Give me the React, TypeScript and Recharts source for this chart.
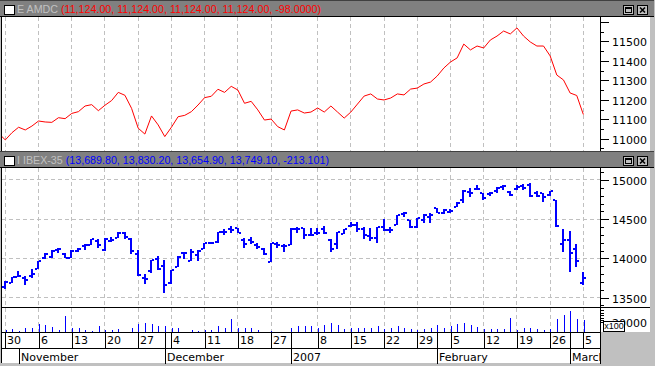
import React from "react";
import { ComposedChart, Line, Bar, XAxis, YAxis, CartesianGrid } from "recharts";

// E AMDC close, starting one session before 30 Oct (index -1)
const AMDC = [
  11027, 10994, 11031, 11059, 11045, 11065, 11091, 11086, 11084, 11108,
  11103, 11130, 11139, 11168, 11175, 11144, 11172, 11196, 11238, 11223,
  11156, 11054, 11024, 11117, 11071, 11011, 11059, 11113, 11120, 11139,
  11173, 11211, 11218, 11254, 11238, 11269, 11250, 11182, 11192, 11148,
  11096, 11101, 11062, 11045, 11142, 11148, 11132, 11137, 11158, 11137,
  11168, 11137, 11106, 11137, 11178, 11219, 11230, 11204, 11199, 11209,
  11230, 11225, 11255, 11260, 11281, 11291, 11322, 11363, 11394, 11415,
  11486, 11456, 11476, 11466, 11507, 11527, 11553, 11538, 11569, 11527,
  11497, 11476, 11476, 11425, 11327, 11302, 11235, 11222, 11124,
];

// IBEX-35 daily bars, 30 Oct 2006 .. 5 Mar 2007
const OPEN = [
  13631, 13690, 13765, 13746, 13776, 13865, 14001, 14014, 14107, 14056,
  14009, 14094, 14158, 14171, 14226, 14107, 14226, 14265, 14328, 14248,
  14052, 13746, 13839, 13992, 13907, 13690, 13895, 14065, 13967, 14043,
  14116, 14192, 14214, 14341, 14375, 14384, 14235, 14235, 14171, 14116,
  13958, 14184, 14158, 14171, 14375, 14384, 14299, 14320, 14371, 14235,
  14180, 14307, 14413, 14426, 14371, 14286, 14256, 14405, 14362, 14426,
  14562, 14490, 14405, 14490, 14532, 14639, 14575, 14596, 14660, 14745,
  14851, 14881, 14830, 14822, 14864, 14915, 14851, 14885, 14928, 14936,
  14830, 14830, 14809, 14745, 14180, 14231, 14116, 13690,
];
const HIGH = [
  13712, 13767, 13839, 13776, 13869, 13971, 14065, 14107, 14129, 14065,
  14107, 14129, 14184, 14248, 14243, 14256, 14277, 14333, 14337, 14256,
  14107, 13801, 13980, 14031, 13980, 13852, 14031, 14086, 14116, 14107,
  14201, 14214, 14341, 14375, 14418, 14384, 14256, 14269, 14201, 14129,
  14192, 14214, 14184, 14384, 14396, 14384, 14384, 14384, 14413, 14243,
  14337, 14371, 14460, 14469, 14405, 14384, 14405, 14498, 14396, 14554,
  14596, 14490, 14511, 14562, 14575, 14639, 14630, 14626, 14724, 14873,
  14894, 14936, 14830, 14851, 14915, 14936, 14864, 14936, 14945, 14966,
  14864, 14839, 14864, 14745, 14375, 14345, 14184, 13830,
];
const LOW = [
  13610, 13682, 13759, 13661, 13746, 13861, 13988, 14001, 14065, 14001,
  14001, 14077, 14107, 14171, 14129, 14099, 14214, 14265, 14243, 14052,
  13776, 13669, 13810, 13852, 13555, 13674, 13895, 13988, 13967, 13967,
  14116, 14184, 14201, 14299, 14328, 14320, 14129, 14184, 14120, 14043,
  13958, 14129, 14086, 14171, 14320, 14243, 14290, 14299, 14307, 14077,
  14116, 14307, 14405, 14333, 14243, 14226, 14192, 14350, 14328, 14426,
  14524, 14384, 14384, 14456, 14456, 14575, 14562, 14583, 14660, 14702,
  14788, 14873, 14745, 14796, 14830, 14873, 14796, 14873, 14873, 14788,
  14788, 14715, 14796, 14405, 14077, 13831, 13890, 13655,
];
const CLOSE = [
  13703, 13759, 13770, 13725, 13797, 13967, 14056, 14090, 14116, 14001,
  14099, 14116, 14171, 14243, 14171, 14248, 14235, 14320, 14277, 14094,
  13784, 13737, 13980, 13861, 13661, 13852, 14022, 14073, 14086, 14099,
  14201, 14195, 14333, 14343, 14362, 14328, 14184, 14214, 14150, 14052,
  14192, 14171, 14160, 14375, 14371, 14299, 14300, 14322, 14320, 14116,
  14333, 14371, 14426, 14371, 14299, 14256, 14396, 14362, 14365, 14554,
  14575, 14405, 14511, 14554, 14554, 14575, 14617, 14609, 14711, 14860,
  14839, 14884, 14766, 14830, 14894, 14918, 14809, 14915, 14902, 14796,
  14796, 14779, 14864, 14413, 14239, 14073, 13962, 13749,
];
const VOLUME = [
  4900, 5600, 2000, 9000, 9000, 16000, 13900, 10400, 3500, 32600,
  9000, 9000, 4900, 1400, 11800, 4900, 3500, 5600, 1000, 7600,
  16000, 19400, 16000, 13200, 11800, 9000, 9000, 1000, 4900, 1400,
  4900, 3500, 11800, 9000, 26400, 9000, 7600, 9000, 3500, 1000,
  1400, 800, 800, 9000, 12500, 13200, 11800, 9000, 15300, 19400,
  13900, 6900, 9000, 9000, 9000, 9000, 11800, 6900, 9000, 11800,
  9000, 6900, 3500, 5600, 9000, 13900, 9000, 11800, 16000, 18800,
  13900, 10400, 6900, 5600, 6900, 5600, 29200, 3500, 9000, 9000,
  6900, 3500, 5600, 26400, 34700, 43100, 26400, 24300,
];

// date axis: week starts and month starts (session index)
const DAY_TICKS = [0, 5, 10, 15, 20, 25, 30, 35, 40, 47, 52, 57, 62, 67, 72, 77, 82, 87];
const DAY_LABELS = ["30", "6", "13", "20", "27", "4", "11", "18", "27", "8", "15", "22", "29", "5", "12", "19", "26", "5"];
const MONTH_TICKS = [2, 24, 43, 65, 85];
const MONTH_LABELS = ["November", "December", "2007", "February", "March"];

const AMDC_TICKS = [10950, 11000, 11050, 11100, 11150, 11200, 11250, 11300, 11350, 11400, 11450, 11500, 11550, 11600];
const AMDC_MAJOR = [11000, 11100, 11200, 11300, 11400, 11500, 11600];
const AMDC_LABELS = [11000, 11100, 11200, 11300, 11400, 11500];
const IBEX_TICKS = [13400, 13500, 13600, 13700, 13800, 13900, 14000, 14100, 14200, 14300, 14400, 14500, 14600, 14700, 14800, 14900, 15000, 15100];
const IBEX_LABELS = [13500, 14000, 14500, 15000];
const VOL_TICKS = [20000, 25000, 30000, 35000, 40000, 45000];
const VOL_LABELS = [20000];

const X_DOMAIN = [-0.5, 89.5];
const AXIS_X = 600;
const FONT = '"DejaVu Sans", sans-serif';
const GRID = "#c0c0c0";

const amdcData = AMDC.map((v, k) => ({ i: k - 1, amdc: v }));
const ibexData = OPEN.map((o, i) => ({ i, open: o, high: HIGH[i], low: LOW[i], close: CLOSE[i] }));
const volData = VOLUME.map((v, i) => ({ i, vol: v }));

const OhlcBar = (props: any) => {
  const { x, y, width, height, payload } = props;
  const cx = Math.round(x + width / 2);
  const span = payload.high - payload.low || 1;
  const at = (v: number) => Math.round(y + ((payload.high - v) / span) * height);
  const top = Math.round(y);
  const bottom = Math.round(y + height);
  return (
    <g fill="#0000ff">
      <rect x={cx - 1} y={top} width={2} height={Math.max(bottom - top, 1)} />
      <rect x={cx - 3} y={at(payload.open) - 1} width={2} height={2} />
      <rect x={cx + 1} y={at(payload.close) - 1} width={2} height={2} />
    </g>
  );
};

const VolBar = (props: any) => {
  const { x, y, width, height } = props;
  const top = Math.round(y);
  return <rect x={Math.round(x + width / 2)} y={top} width={1} height={Math.round(y + height) - top} fill="#0000ff" />;
};

const priceTick = (major: number[], labels: number[]) => (props: any) => {
  const v = props.payload.value;
  const py = Math.round(props.y) + 0.5;
  const long = major.includes(v);
  return (
    <g>
      <line x1={AXIS_X} x2={AXIS_X + (long ? 9 : 4)} y1={py} y2={py} stroke="#000" />
      {labels.includes(v) && (
        <text x={612} y={py + 4} fontFamily={FONT} fontSize={11} fill="#000">
          {v}
        </text>
      )}
    </g>
  );
};

const DateTick = (props: any) => {
  const v = props.payload.value;
  const px = Math.round(props.x) + 0.5;
  const d = DAY_TICKS.indexOf(v);
  const m = MONTH_TICKS.indexOf(v);
  return (
    <g>
      {d >= 0 && (
        <>
          <line x1={px} x2={px} y1={24} y2={40} stroke="#000" />
          <text x={px + 1.5} y={36.3} fontFamily={FONT} fontSize={11} fill="#000">
            {DAY_LABELS[d]}
          </text>
        </>
      )}
      {m >= 0 && (
        <>
          <line x1={px} x2={px} y1={m === 0 ? 40 : 24} y2={56} stroke="#000" />
          <svg x={0} y={0} width={AXIS_X} height={56}>
            <text x={px + 1.5} y={53} fontFamily={FONT} fontSize={11} fill="#000">
              {MONTH_LABELS[m]}
            </text>
          </svg>
        </>
      )}
    </g>
  );
};

const TitleBar = ({ top, name, values, color }: { top: number; name: string; values: string; color: string }) => (
  <div style={{ position: "absolute", left: 0, top, width: 654, height: 17, background: "#808080", borderTop: "1px solid #404040", borderBottom: "1px solid #000", boxSizing: "border-box" }}>
    <div style={{ position: "absolute", left: 4, top: 4, width: 11, height: 10, background: "#fff", border: "1px solid #000", boxSizing: "border-box" }} />
    <div style={{ position: "absolute", left: 17, top: 2, font: '10.7px "Liberation Sans", sans-serif', lineHeight: "13px", color: "#c0c0c0", whiteSpace: "nowrap" }}>
      {name} <span style={{ color }}>{values}</span>
    </div>
    <svg style={{ position: "absolute", left: 623, top: 4 }} width={25} height={11}>
      <rect x={0.5} y={0.5} width={10} height={9} fill="#c0c0c0" stroke="#000" />
      <rect x={2.5} y={2.5} width={6} height={5} fill="none" stroke="#000" />
      <line x1={2} x2={9} y1={3} y2={3} stroke="#000" strokeWidth={2} />
      <rect x={14.5} y={0.5} width={10} height={9} fill="#c0c0c0" stroke="#000" />
      <path d="M17 2.5 L22 7.5 M22 2.5 L17 7.5" stroke="#000" strokeWidth={1.6} />
    </svg>
  </div>
);

const box = (left: number, top: number, width: number, height: number, background: string) => (
  <div style={{ position: "absolute", left, top, width, height, background }} />
);

export default function App() {
  return (
    <div style={{ position: "absolute", left: 0, top: 0, width: 655, height: 366, background: "#c0c0c0", overflow: "hidden" }}>
      {box(1, 17, 649, 134, "#fff")}
      {box(1, 168, 649, 139, "#fff")}
      {box(1, 307, 649, 1, "#000")}
      {box(1, 308, 649, 24, "#fff")}
      {box(1, 332, 600, 31, "#fff")}
      {box(1, 17, 1, 346, "#000")}
      <TitleBar top={0} name="E AMDC" values="(11,124.00, 11,124.00, 11,124.00, 11,124.00, -98.0000)" color="#ff0000" />
      <TitleBar top={151} name="I IBEX-35" values="(13,689.80, 13,830.20, 13,654.90, 13,749.10, -213.101)" color="#0000ff" />

      <div style={{ position: "absolute", left: 0, top: 17 }}>
        <ComposedChart width={652} height={134} data={amdcData} margin={{ top: 0, right: 0, bottom: 0, left: 2 }}>
          <CartesianGrid horizontal={false} verticalValues={DAY_TICKS} stroke={GRID} strokeDasharray="4 3" shapeRendering="crispEdges" />
          <XAxis type="number" dataKey="i" domain={X_DOMAIN} allowDataOverflow hide />
          <YAxis orientation="right" width={52} domain={[10937, 11625]} allowDataOverflow ticks={AMDC_TICKS} interval={0} tick={priceTick(AMDC_MAJOR, AMDC_LABELS)} tickLine={false} axisLine={false} />
          <Line type="linear" dataKey="amdc" stroke="#ff0000" strokeWidth={1} dot={false} isAnimationActive={false} />
        </ComposedChart>
      </div>

      <div style={{ position: "absolute", left: 0, top: 168 }}>
        <ComposedChart width={652} height={139} data={ibexData} margin={{ top: 0, right: 0, bottom: 0, left: 2 }}>
          <CartesianGrid verticalValues={DAY_TICKS} horizontalValues={IBEX_LABELS} stroke={GRID} strokeDasharray="4 3" shapeRendering="crispEdges" />
          <XAxis type="number" dataKey="i" domain={X_DOMAIN} allowDataOverflow hide />
          <YAxis orientation="right" width={52} domain={[13380, 15153]} allowDataOverflow ticks={IBEX_TICKS} interval={0} tick={priceTick(IBEX_LABELS, IBEX_LABELS)} tickLine={false} axisLine={false} />
          <Bar dataKey={(d: any) => [d.low, d.high]} barSize={4} shape={OhlcBar} isAnimationActive={false} />
        </ComposedChart>
      </div>

      <div style={{ position: "absolute", left: 0, top: 308 }}>
        <ComposedChart width={652} height={56} data={volData} margin={{ top: 0, right: 0, bottom: 0, left: 2 }}>
          <CartesianGrid horizontal={false} verticalValues={DAY_TICKS} stroke={GRID} strokeDasharray="4 3" shapeRendering="crispEdges" />
          <XAxis type="number" dataKey="i" domain={X_DOMAIN} allowDataOverflow height={32} ticks={[...DAY_TICKS, ...MONTH_TICKS].sort((a, b) => a - b)} interval={0} tick={DateTick} tickLine={false} axisLine={false} />
          <YAxis orientation="right" width={52} domain={[0, 50000]} allowDataOverflow ticks={VOL_TICKS} interval={0} tick={priceTick(VOL_LABELS, VOL_LABELS)} tickLine={false} axisLine={false} />
          <Bar dataKey="vol" barSize={1} shape={VolBar} isAnimationActive={false} />
        </ComposedChart>
      </div>

      {box(1, 332, 600, 1, "#000")}
      {box(1, 348, 600, 1, "#000")}
      {box(AXIS_X, 17, 1, 134, "#000")}
      {box(AXIS_X, 168, 1, 139, "#000")}
      {box(AXIS_X, 308, 1, 56, "#000")}
      <div style={{ position: "absolute", left: 603, top: 321, width: 22, height: 11, background: "#fff", border: "1px solid #000", boxSizing: "border-box", font: '9px "Liberation Sans", sans-serif', lineHeight: "9px", textAlign: "center", color: "#000" }}>
        x100
      </div>
    </div>
  );
}
